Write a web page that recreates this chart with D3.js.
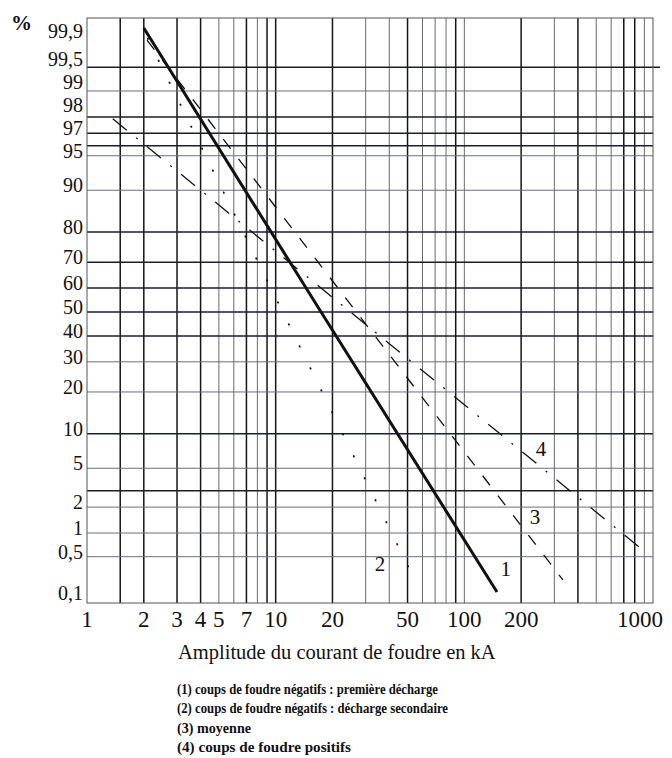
<!DOCTYPE html>
<html>
<head>
<meta charset="utf-8">
<script src="https://cdn.jsdelivr.net/npm/d3@7"></script>
<style>
  body { margin: 0; background: #fff; }
  svg text { font-family: "Liberation Serif", "Times New Roman", "DejaVu Serif", serif; fill: #111; }
</style>
</head>
<body>
<div id="main"></div>
<script>
// valeurs : [kA, %]
const xTicks = [1, 2, 3, 4, 5, 7, 10, 20, 50, 100, 200, 1000];
const xGrid = [1.5, 2, 3, 4, 5, 6, 7, 8, 9, 10, 20, 30, 40, 50, 60, 70, 80, 90,
               100, 200, 300, 400, 500, 600, 700, 800, 900];
const yTicks = [99.9, 99.5, 99, 98, 97, 95, 90, 80, 70, 60, 50, 40, 30, 20, 10, 5, 2, 1, 0.5, 0.1];
const yGrid = [99.5, 99, 98, 97, 96, 95, 90, 80, 70, 60, 50, 40, 30, 20, 10, 5, 3, 2, 1, 0.5];

const serie1 = [[2, 99.86], [17.4, 50], [149, 0.16]];   // premiere decharge
const serie2 = [[2.1, 99.8], [10.9, 50], [57, 0.19]];   // decharge secondaire
const serie3 = [[2.08, 99.79], [26.8, 50], [333, 0.24]]; // moyenne
const serie4 = [[1.37, 97.9], [24.9, 50], [884, 0.61]];  // positifs
const serieLabels = [["1", 166, 0.34], ["2", 35.7, 0.41], ["3", 237, 1.55], ["4", 255, 7.5]];

const legende = [
  "(1) coups de foudre négatifs : première décharge",
  "(2) coups de foudre négatifs : décharge secondaire",
  "(3) moyenne",
  "(4) coups de foudre positifs"
];
const legendeLargeur = [261, 271, 74, 174];

// lignes plus marquees sur le papier
const xHeavy = [1.5, 2, 3, 4, 7, 9, 10, 20, 50, 90, 200, 400, 700, 800];
const yHeavy = [99.5, 98, 97, 96, 80, 70, 60, 50, 40, 10, 3];

// quantile de la loi normale (Acklam) pour l'echelle gausso-arithmetique
function probit(p) {
  const a = [-3.969683028665376e+01, 2.209460984245205e+02, -2.759285104469687e+02,
             1.383577518672690e+02, -3.066479806614716e+01, 2.506628277459239e+00];
  const b = [-5.447609879822406e+01, 1.615858368580409e+02, -1.556989798598866e+02,
             6.680131188771972e+01, -1.328068155288572e+01];
  const c = [-7.784894002430293e-03, -3.223964580411365e-01, -2.400758277161838e+00,
             -2.549671010366714e+00, 4.374664141464968e+00, 2.938163982698783e+00];
  const d = [7.784695709041462e-03, 3.224671290700398e-01, 2.445134137142996e+00,
             3.754408661907416e+00];
  const pl = 0.02425;
  if (p < pl) {
    const q = Math.sqrt(-2 * Math.log(p));
    return (((((c[0]*q+c[1])*q+c[2])*q+c[3])*q+c[4])*q+c[5]) / ((((d[0]*q+d[1])*q+d[2])*q+d[3])*q+1);
  }
  if (p <= 1 - pl) {
    const q = p - 0.5, r = q * q;
    return (((((a[0]*r+a[1])*r+a[2])*r+a[3])*r+a[4])*r+a[5])*q / (((((b[0]*r+b[1])*r+b[2])*r+b[3])*r+b[4])*r+1);
  }
  const q = Math.sqrt(-2 * Math.log(1 - p));
  return -(((((c[0]*q+c[1])*q+c[2])*q+c[3])*q+c[4])*q+c[5]) / ((((d[0]*q+d[1])*q+d[2])*q+d[3])*q+1);
}

const W = 672, H = 758;
const frame = { left: 87, right: 653, top: 18, bottom: 603 };

const x = d3.scaleLog().domain([1, 1000]).range([frame.left, frame.right]);
// 95 px par ecart-type, 50 % a y = 312
const zScale = d3.scaleLinear().domain([0, 1]).range([312, 217]);
const y = v => zScale(probit(v / 100));

const fmt = v => String(v).replace(".", ",");

const svg = d3.select("#main").append("svg")
  .attr("width", W)
  .attr("height", H);

// grille verticale
svg.append("g").selectAll("line")
  .data(xGrid)
  .join("line")
  .attr("x1", d => x(d)).attr("x2", d => x(d))
  .attr("y1", frame.top).attr("y2", frame.bottom)
  .attr("stroke", d => xHeavy.includes(d) ? "#151515" : "#6a6a6a")
  .attr("stroke-width", d => xHeavy.includes(d) ? 1.5 : 1);

// grille horizontale
svg.append("g").selectAll("line")
  .data(yGrid)
  .join("line")
  .attr("x1", frame.left)
  .attr("x2", d => d === 99.5 ? frame.right + 7 : frame.right)
  .attr("y1", d => y(d)).attr("y2", d => y(d))
  .attr("stroke", d => yHeavy.includes(d) ? "#1a1d2e" : "#6b6e80")
  .attr("stroke-width", d => yHeavy.includes(d) ? 1.5 : 1);

// cadre
svg.append("rect")
  .attr("x", frame.left).attr("y", frame.top)
  .attr("width", frame.right - frame.left)
  .attr("height", frame.bottom - frame.top)
  .attr("fill", "none")
  .attr("stroke", "#555")
  .attr("stroke-width", 1);

// courbes
const line = d3.line().x(d => x(d[0])).y(d => y(d[1]));
const series = [
  { data: serie1, width: 3, dash: null, cap: "butt" },
  { data: serie2, width: 1.8, dash: "0.5,24", cap: "round" },
  { data: serie3, width: 1.3, dash: "12,13", cap: "butt" },
  { data: serie4, width: 1.3, dash: "18,12,2,12", cap: "butt" }
];
svg.append("g").selectAll("path")
  .data(series)
  .join("path")
  .attr("d", d => line(d.data))
  .attr("fill", "none")
  .attr("stroke", "#111")
  .attr("stroke-width", d => d.width)
  .attr("stroke-linecap", d => d.cap)
  .attr("stroke-dasharray", d => d.dash);

svg.append("g").selectAll("text")
  .data(serieLabels)
  .join("text")
  .attr("x", d => x(d[1]))
  .attr("y", d => y(d[2]))
  .attr("dy", "0.35em")
  .attr("text-anchor", "middle")
  .attr("font-size", 21)
  .text(d => d[0]);

// graduations de l'axe des % : un peu au-dessus de la ligne, sans chevauchement
const labelY = yTicks.map(v => Math.min(frame.bottom - 10, Math.max(frame.top + 13, y(v) - 5)));
for (let i = labelY.length - 2; i >= 0; i--) {
  labelY[i] = Math.min(labelY[i], labelY[i + 1] - 23);
}
svg.append("g").selectAll("text")
  .data(yTicks)
  .join("text")
  .attr("x", 83)
  .attr("y", (d, i) => labelY[i])
  .attr("dy", "0.35em")
  .attr("text-anchor", "end")
  .attr("font-size", 20)
  .text(fmt);

svg.append("text")
  .attr("x", 11).attr("y", 30)
  .attr("font-size", 21)
  .attr("font-weight", "bold")
  .text("%");

svg.append("g").selectAll("text")
  .data(xTicks)
  .join("text")
  .attr("x", (d, i) => i === xTicks.length - 1 ? x(d) + 10 : x(d))
  .attr("y", 627)
  .attr("text-anchor", (d, i) => i === xTicks.length - 1 ? "end" : "middle")
  .attr("font-size", 23)
  .text(d => d);

// titre de l'axe et legende
svg.append("text")
  .attr("x", 178).attr("y", 659)
  .attr("font-size", 20.5)
  .text("Amplitude du courant de foudre en kA");

svg.append("g").selectAll("text")
  .data(legende)
  .join("text")
  .attr("x", 177)
  .attr("y", (d, i) => 694 + i * 19.3)
  .attr("font-size", 14)
  .attr("font-weight", "bold")
  .attr("textLength", (d, i) => legendeLargeur[i])
  .attr("lengthAdjust", "spacingAndGlyphs")
  .text(d => d);
</script>
</body>
</html>
